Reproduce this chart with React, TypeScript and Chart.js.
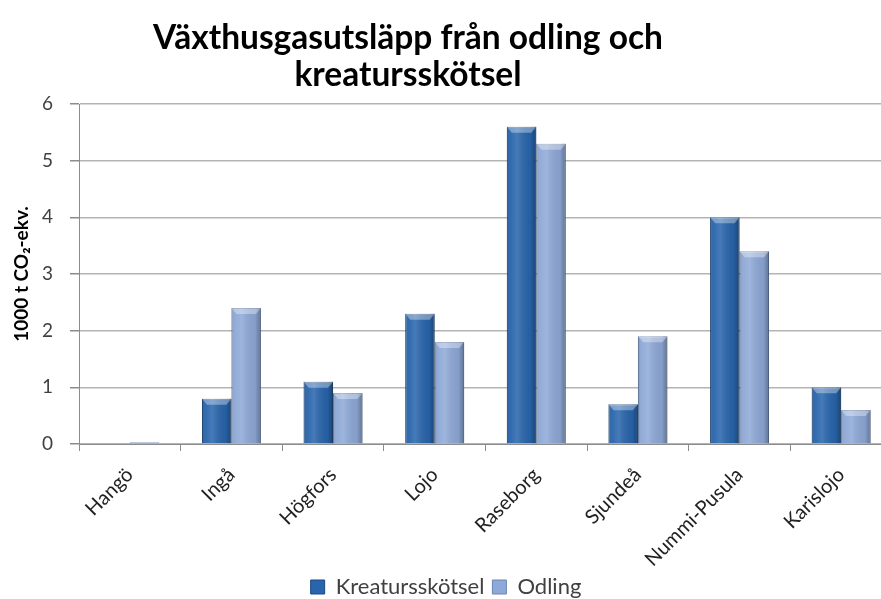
import React, { useEffect, useRef } from "react";
import { Chart, registerables } from "chart.js";

Chart.register(...registerables);

const categories = ["Hangö", "Ingå", "Högfors", "Lojo", "Raseborg", "Sjundeå", "Nummi-Pusula", "Karislojo"];
const kreatursskotsel = [0, 0.8, 1.1, 2.3, 5.6, 0.7, 4.0, 1.0];
const odling = [0.03, 2.4, 0.9, 1.8, 5.3, 1.9, 3.4, 0.6];
const seriesNames = ["Kreatursskötsel", "Odling"];
const titleLines = ["Växthusgasutsläpp från odling och", "kreatursskötsel"];
const yTitle = "1000 t CO\u2082-ekv.";

const FONT = "Lato, 'Open Sans', sans-serif";

const shadePlugin = {
  id: "shade",
  afterDatasetsDraw(chart: any) {
    const ctx = chart.ctx;
    chart.data.datasets.forEach((_: any, di: number) => {
      const meta = chart.getDatasetMeta(di);
      meta.data.forEach((bar: any) => {
        const { x, y, base, width } = bar.getProps(["x", "y", "base", "width"], true);
        const left = x - width / 2;
        const h = base - y;
        if (h < 1) return;
        const g = ctx.createLinearGradient(left, 0, left + width, 0);
        g.addColorStop(0, "rgba(0,0,0,0.2)");
        g.addColorStop(0.12, "rgba(255,255,255,0.04)");
        g.addColorStop(0.35, "rgba(255,255,255,0.14)");
        g.addColorStop(0.8, "rgba(0,0,0,0.06)");
        g.addColorStop(1, "rgba(0,0,0,0.32)");
        ctx.save();
        ctx.fillStyle = g;
        ctx.fillRect(left, y, width, h);
        const bh = Math.min(6, h);
        ctx.beginPath();
        ctx.moveTo(left, y);
        ctx.lineTo(left + width, y);
        ctx.lineTo(left + width - 5, y + bh);
        ctx.lineTo(left + 5, y + bh);
        ctx.closePath();
        ctx.fillStyle = "rgba(255,255,255,0.35)";
        ctx.fill();
        ctx.restore();
      });
    });
  },
};

const titlePlugin = {
  id: "customTitle",
  afterDraw(chart: any, _args: any, opts: any) {
    const ctx = chart.ctx;
    ctx.save();
    ctx.fillStyle = opts.color;
    ctx.font = opts.font;
    ctx.textAlign = "center";
    ctx.textBaseline = "middle";
    opts.lines.forEach((line: string, i: number) => {
      ctx.fillText(line, opts.x, opts.y + i * opts.lineGap);
    });
    ctx.restore();
  },
};

export default function App() {
  const ref = useRef<HTMLCanvasElement | null>(null);
  useEffect(() => {
    if (!ref.current) return;
    const chart = new Chart(ref.current, {
      type: "bar",
      data: {
        labels: categories,
        datasets: [
          {
            label: seriesNames[0],
            data: kreatursskotsel,
            backgroundColor: "#2865ac",
            borderColor: "#1c4880",
            borderWidth: 1,
          },
          {
            label: seriesNames[1],
            data: odling,
            backgroundColor: "#8ea9d7",
            borderColor: "#6a83b3",
            borderWidth: 1,
          },
        ],
      },
      plugins: [shadePlugin, titlePlugin],
      options: {
        responsive: false,
        animation: false,
        layout: { padding: { left: 0, right: 0, top: 104, bottom: -9 } },
        datasets: {
          bar: { categoryPercentage: 0.58, barPercentage: 1.0 },
        },
        scales: {
          x: {
            afterFit: (scale: any) => {
              scale.height = 124;
            },
            grid: {
              drawOnChartArea: false,
              drawTicks: true,
              tickLength: 7,
              color: "#8c8c8c",
              offset: true,
            },
            border: { color: "#8c8c8c", width: 1 },
            ticks: {
              minRotation: 45,
              maxRotation: 45,
              padding: 12,
              color: "#222222",
              font: { family: FONT, size: 20 },
            },
          },
          y: {
            afterFit: (scale: any) => {
              scale.width = 79;
            },
            min: 0,
            max: 6,
            ticks: {
              stepSize: 1,
              padding: 17,
              color: "#404040",
              font: { family: FONT, size: 19 },
            },
            grid: { color: "#b4b4b4", lineWidth: 1.5, tickLength: 9, tickColor: "#8c8c8c" },
            border: { color: "#8c8c8c", width: 1 },
            title: {
              display: true,
              text: yTitle,
              color: "#000000",
              font: { family: FONT, size: 19, weight: "bold" },
              padding: { top: 10, bottom: 0 },
            },
          },
        },
        plugins: {
          title: { display: false },
          customTitle: {
            lines: titleLines,
            x: 408,
            y: 38,
            lineGap: 37,
            color: "#000000",
            font: "bold 33.5px Lato, 'Open Sans', sans-serif",
          },
          legend: {
            position: "bottom",
            labels: {
              color: "#404040",
              font: { family: FONT, size: 22, lineHeight: 1.0 },
              boxWidth: 14,
              boxHeight: 14,
              padding: 8,
            },
          },
          tooltip: { enabled: false },
        },
      } as any,
    });
    return () => chart.destroy();
  }, []);
  return (
    <div style={{ position: "fixed", left: 0, top: 0, width: 881, height: 599, overflow: "hidden", background: "#fff" }}>
      <canvas ref={ref} width={892} height={599} style={{ width: 892, height: 599, display: "block" }} />
    </div>
  );
}
